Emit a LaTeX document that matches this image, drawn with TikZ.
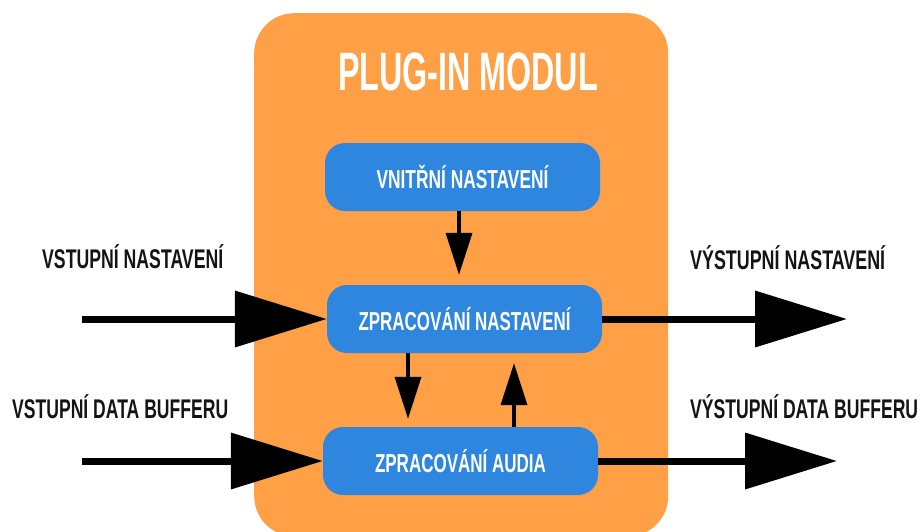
\documentclass[tikz,border=0pt]{standalone}
\usepackage{fontspec}
\setmainfont{Liberation Sans}
\usetikzlibrary{arrows.meta}
\definecolor{orangebg}{RGB}{255,160,70}
\definecolor{bluebox}{RGB}{46,134,222}
\definecolor{labelcol}{RGB}{20,20,20}
\newsavebox\fitbox
\newcommand{\fitw}[3]{{\fontsize{#2}{#2}\selectfont\bfseries\sbox\fitbox{#3}\resizebox{#1}{\ht\fitbox}{\usebox\fitbox}}}
\tikzset{
  box/.style={fill=bluebox, rounded corners=20pt, text=white, minimum height=68pt, minimum width=275pt, inner sep=0pt},
  lbl/.style={text=labelcol, inner sep=0pt, anchor=base west},
  bigarrow/.style={line width=7pt, -{Triangle[length=92pt,width=55pt]}},
  smallarrow/.style={line width=3.5pt, -{Triangle[length=42pt,width=26pt]}}
}
\begin{document}
\begin{tikzpicture}[x=1pt,y=-1pt]
\useasboundingbox (0,0) rectangle (920,531);
\clip (0,0) rectangle (920,531);
\node[fill=orangebg, rounded corners=40pt, minimum width=414pt, minimum height=523pt, anchor=north west, inner sep=0pt] (plug) at (254,13) {};
\node[anchor=base, text=white, inner sep=0pt] (title) at (468,90) {\fitw{260pt}{54pt}{PLUG-IN MODUL}};
\node[box] (vn) at (462.5,177) {\fitw{172pt}{26pt}{VNITŘNÍ NASTAVENÍ}};
\node[box] (zn) at (464.5,319) {\fitw{212pt}{26pt}{ZPRACOVÁNÍ NASTAVENÍ}};
\node[box] (za) at (460.5,461) {\fitw{171pt}{26pt}{ZPRACOVÁNÍ AUDIA}};
\node[lbl] (inn) at (42,268) {\fitw{181pt}{27pt}{VSTUPNÍ NASTAVENÍ}};
\node[lbl] (outn) at (690,269) {\fitw{195pt}{27pt}{VÝSTUPNÍ NASTAVENÍ}};
\node[lbl] (ind) at (12,418) {\fitw{216pt}{27pt}{VSTUPNÍ DATA BUFFERU}};
\node[lbl] (outd) at (690,418) {\fitw{228pt}{27pt}{VÝSTUPNÍ DATA BUFFERU}};
\coordinate (a1) at (82,319);
\coordinate (a2) at (847,319);
\coordinate (b1) at (82,461);
\coordinate (b2) at (837,461);
\draw[bigarrow] (a1) -- (zn.west);
\draw[bigarrow] (zn.east) -- (a2);
\draw[bigarrow] (b1) -- (za.west);
\draw[bigarrow] (za.east) -- (b2);
\draw[smallarrow, shorten >=10pt] ([xshift=-3.5pt]vn.south) -- ([xshift=-3.5pt]vn.south |- zn.north);
\draw[smallarrow, shorten >=8pt] (zn.south -| 408,0) -- (za.north -| 408,0);
\draw[smallarrow, shorten >=10pt] (za.north -| 514,0) -- (zn.south -| 514,0);
\end{tikzpicture}
\end{document}
